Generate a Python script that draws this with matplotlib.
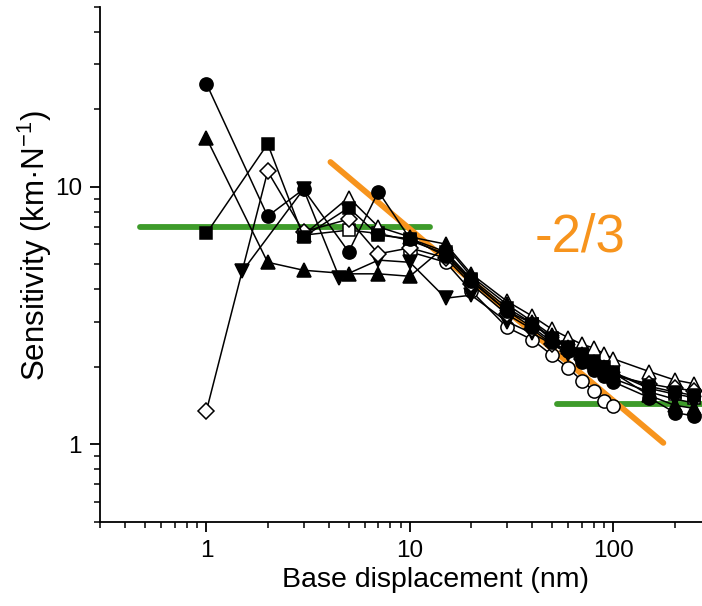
import numpy as np
import matplotlib
matplotlib.use("Agg")
import matplotlib.pyplot as plt
from matplotlib.ticker import LogLocator, NullFormatter, FixedLocator, FixedFormatter

plt.rcParams['font.family'] = ['Liberation Sans', 'DejaVu Sans']
plt.rcParams['mathtext.fontset'] = 'custom'
plt.rcParams['mathtext.rm'] = 'Liberation Sans'
plt.rcParams['mathtext.it'] = 'Liberation Sans'

# ---- data: sensitivity vs base displacement for each recording ----
x_filled_circle = [1, 2, 3, 5, 7, 10, 15, 20, 30, 40, 50, 60, 70, 80, 90, 100, 150, 200, 250]
y_filled_circle = [25.2, 7.7, 9.8, 5.6, 9.6, 6.3, 5.4, 4.3, 3.3, 2.85, 2.5, 2.3, 2.1, 1.95, 1.85, 1.75, 1.52, 1.33, 1.29]

x_filled_tri_up = [1, 2, 3, 5, 7, 10, 15, 20, 30, 40, 50, 60, 70, 80, 90, 100, 150, 200, 250]
y_filled_tri_up = [15.5, 5.1, 4.75, 4.6, 4.6, 4.5, 5.9, 4.5, 3.5, 3.0, 2.65, 2.4, 2.25, 2.1, 2.0, 1.9, 1.55, 1.42, 1.38]

x_filled_square = [1, 2, 3, 5, 7, 10, 15, 20, 30, 40, 50, 60, 70, 80, 90, 100, 150, 200, 250]
y_filled_square = [6.6, 14.7, 6.4, 8.3, 6.5, 6.3, 5.6, 4.4, 3.4, 2.95, 2.6, 2.4, 2.25, 2.1, 2.0, 1.9, 1.68, 1.6, 1.55]

x_open_diamond = [1, 2, 3, 5, 7, 10, 15, 20, 30, 40, 50, 60, 70, 80, 90, 100, 150, 200, 250]
y_open_diamond = [1.35, 11.5, 6.7, 7.5, 5.5, 5.8, 5.3, 4.2, 3.2, 2.8, 2.45, 2.3, 2.15, 2.05, 1.95, 1.85, 1.72, 1.65, 1.62]

x_filled_tri_down = [1.5, 3, 4.5, 7, 10, 15, 20, 30, 40, 50, 60, 70, 80, 90, 100, 150, 200, 250]
y_filled_tri_down = [4.7, 9.8, 4.45, 5.2, 5.1, 3.7, 3.8, 3.0, 2.7, 2.45, 2.25, 2.1, 2.0, 1.9, 1.8, 1.6, 1.5, 1.45]

x_open_tri_up = [3, 5, 7, 10, 15, 20, 30, 40, 50, 60, 70, 80, 90, 100, 150, 200, 250]
y_open_tri_up = [6.5, 9.1, 7.0, 6.4, 6.0, 4.6, 3.6, 3.15, 2.8, 2.6, 2.45, 2.37, 2.25, 2.15, 1.92, 1.78, 1.72]

x_open_square = [3, 5, 7, 10, 15, 20, 30, 40, 50, 60, 70, 80, 90, 100, 150, 200, 250]
y_open_square = [6.5, 6.8, 6.6, 6.2, 5.5, 4.35, 3.3, 2.95, 2.55, 2.4, 2.25, 2.1, 2.0, 1.9, 1.65, 1.57, 1.52]

x_open_circle = [10, 15, 20, 30, 40, 50, 60, 70, 80, 90, 100]
y_open_circle = [5.6, 5.1, 3.95, 2.85, 2.55, 2.22, 1.98, 1.77, 1.62, 1.48, 1.41]

# plateau levels and power-law guide
low_plateau_x = [0.47, 12.6]
low_plateau_y = [7.0, 7.0]
high_plateau_x = [53, 400]
high_plateau_y = [1.44, 1.44]
slope_x = [4.07, 176]
slope_anchor = 12.5
slope_exponent = -2.0 / 3.0
slope_label = "-2/3"

x_ticks = [1, 10, 100]
x_tick_labels = ["1", "10", "100"]
y_ticks = [1, 10]
y_tick_labels = ["1", "10"]

ORANGE = "#F7941D"
GREEN = "#3E9B2A"

W, H = 702, 606
fig = plt.figure(figsize=(W / 100, H / 100), dpi=100)
ax = fig.add_axes([100 / W, 1 - 522 / H, 610.5 / W, 515 / H])
ax.set_xscale('log')
ax.set_yscale('log')

# guides
ax.plot(low_plateau_x, low_plateau_y, color=GREEN, lw=4.2, solid_capstyle='round', zorder=1)
ax.plot(high_plateau_x, high_plateau_y, color=GREEN, lw=4.2, solid_capstyle='round', zorder=1)
sx = np.array(slope_x)
sy = slope_anchor * (sx / slope_x[0]) ** slope_exponent
ax.plot(sx, sy, color=ORANGE, lw=4.2, solid_capstyle='round', zorder=1)

series = [
    (x_open_circle, y_open_circle, 'o', 'white', 9.5),
    (x_open_square, y_open_square, 's', 'white', 8),
    (x_open_tri_up, y_open_tri_up, '^', 'white', 10.5),
    (x_filled_tri_down, y_filled_tri_down, 'v', 'black', 10.5),
    (x_open_diamond, y_open_diamond, 'D', 'white', 8),
    (x_filled_square, y_filled_square, 's', 'black', 8),
    (x_filled_tri_up, y_filled_tri_up, '^', 'black', 10.5),
    (x_filled_circle, y_filled_circle, 'o', 'black', 9.5),
]
for i, (xs, ys, mk, fc, ms) in enumerate(series):
    ax.plot(xs, ys, color='black', lw=1.1, marker=mk, markersize=ms,
            markerfacecolor=fc, markeredgecolor='black', markeredgewidth=1.1,
            zorder=3 + i)

fig.text(580 / W, 1 - 237 / H, slope_label, color=ORANGE, fontsize=38,
         ha='center', va='center')

ax.set_xlim(0.3, 300)
ax.set_ylim(0.5, 50)

ax.spines['top'].set_visible(False)
ax.spines['right'].set_visible(False)
for s in ('left', 'bottom'):
    ax.spines[s].set_linewidth(1.3)

ax.xaxis.set_major_locator(FixedLocator(x_ticks))
ax.xaxis.set_major_formatter(FixedFormatter(x_tick_labels))
ax.yaxis.set_major_locator(FixedLocator(y_ticks))
ax.yaxis.set_major_formatter(FixedFormatter(y_tick_labels))
ax.xaxis.set_minor_locator(LogLocator(base=10, subs=np.arange(2, 10), numticks=20))
ax.yaxis.set_minor_locator(LogLocator(base=10, subs=np.arange(2, 10), numticks=20))
ax.xaxis.set_minor_formatter(NullFormatter())
ax.yaxis.set_minor_formatter(NullFormatter())
ax.tick_params(which='major', direction='out', length=7, width=1.3, labelsize=17.5, pad=6)
ax.tick_params(which='minor', direction='out', length=4, width=1.1)

xl = ax.set_xlabel("Base displacement (nm)", fontsize=20.5)
yl = ax.set_ylabel("Sensitivity (km·N$^{-1}$)", fontsize=22.5)
# place axis titles by figure position
ax.xaxis.set_label_coords(435 / W, 1 - 580 / H, transform=fig.transFigure)
xl.set_verticalalignment('center')
ax.yaxis.set_label_coords(35 / W, 1 - 246 / H, transform=fig.transFigure)
yl.set_verticalalignment('center')

fig.savefig("out.png", dpi=100)
